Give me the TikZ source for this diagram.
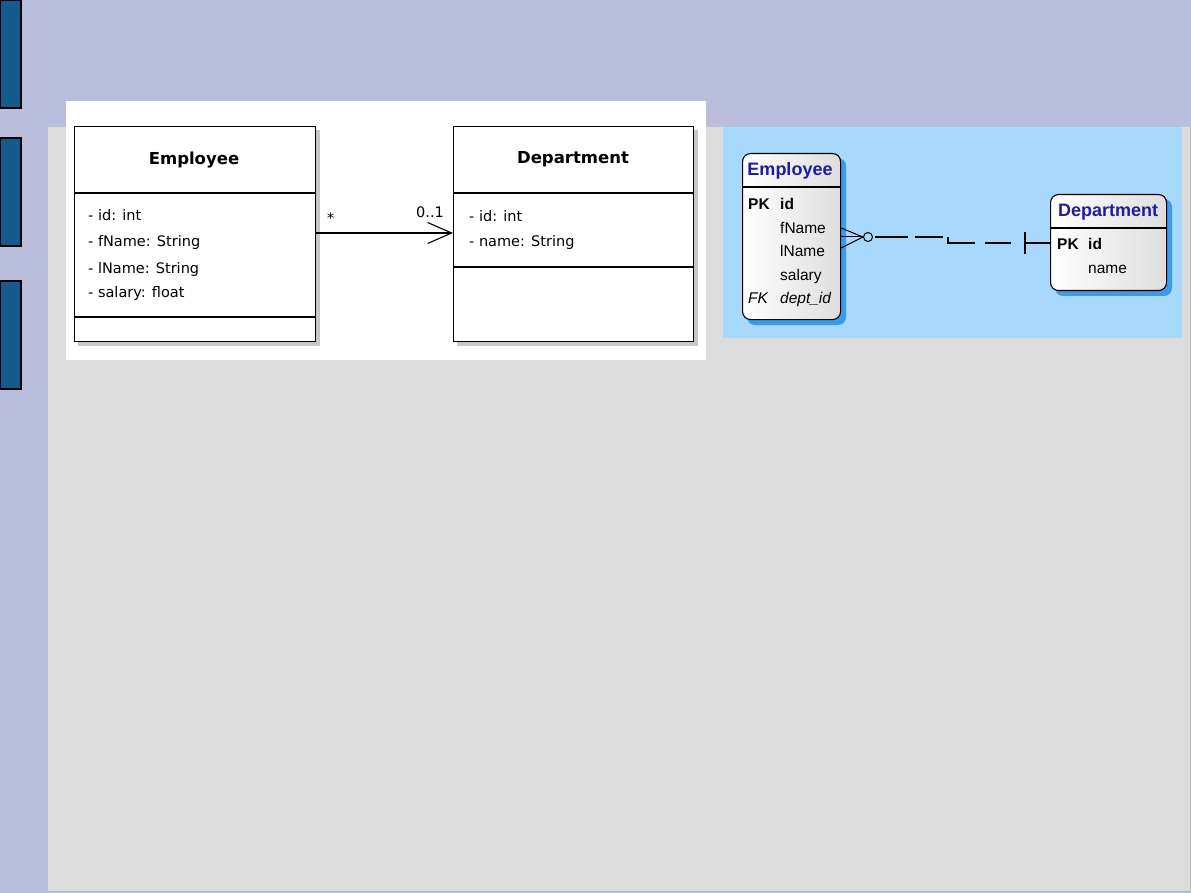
\documentclass[tikz,border=0pt]{standalone}
\usepackage{fontspec}
\setmainfont{Liberation Sans}
\newfontfamily\umlfont{DejaVu Sans}
\usetikzlibrary{positioning,arrows.meta,calc}

\definecolor{slidelav}{HTML}{B9BEDC}
\definecolor{slidegray}{HTML}{DCDCDC}
\definecolor{tabblue}{HTML}{145A8C}
\definecolor{erback}{HTML}{A8D8FB}
\definecolor{ershadow}{HTML}{3A9BE8}
\definecolor{ertitle}{HTML}{1E1E9C}

\begin{document}
\begin{tikzpicture}[x=1pt, y=-1pt, >=Latex,
  umlbox/.style={draw, line width=1.4pt, fill=white, inner sep=0pt, anchor=north west},
  umltitle/.style={font=\umlfont\bfseries\fontsize{16.5}{19}\selectfont},
  umlattr/.style={anchor=base west, inner sep=0pt, font=\umlfont\fontsize{14.5}{17}\selectfont},
  erbox/.style={draw, line width=1.1pt, rounded corners=8pt, left color=white, right color=black!13, inner sep=0pt, anchor=north west},
  ershade/.style={fill=ershadow, rounded corners=8pt},
  ertitle/.style={text=ertitle, font=\bfseries\fontsize{18}{21}\selectfont},
  erattr/.style={anchor=base west, inner sep=0pt, font=\fontsize{15.5}{18}\selectfont}]

  % slide background
  \fill[slidelav] (0,0) rectangle (1191,893);
  \fill[slidegray] (48,127) rectangle (1190,891);
  \draw[black!28, line width=1pt] (1190,127) -- (1190,891) -- (48,891);
  \filldraw[fill=tabblue, draw=black, line width=1.2pt] (0.6,0.6) rectangle (21,108);
  \filldraw[fill=tabblue, draw=black, line width=1.2pt] (0.6,138) rectangle (21,246);
  \filldraw[fill=tabblue, draw=black, line width=1.2pt] (0.6,281) rectangle (21,389);

  % UML class diagram
  \fill[white] (66,101) rectangle (706,360);
  \fill[black!22] (78,130) rectangle (320,346);
  \fill[black!22] (457,130) rectangle (698,346);
  \node[umlbox, minimum width=241pt, minimum height=215pt] (empClass) at (74,126) {};
  \node[umlbox, minimum width=240pt, minimum height=215pt] (deptClass) at (453,126) {};
  \draw[line width=1.4pt] (74,193) -- (315,193);
  \draw[line width=1.4pt] (74,317) -- (315,317);
  \draw[line width=1.4pt] (453,193) -- (693,193);
  \draw[line width=1.4pt] (453,267) -- (693,267);

  \node[umltitle] (empName) at (194,160) {Employee};
  \node[umltitle] (deptName) at (573,159) {Department};
  \node[umlattr] (empId) at (88,221) {- id: int};
  \node[umlattr] (empFirst) at (88,247) {- fName: String};
  \node[umlattr] (empLast) at (88,273) {- lName: String};
  \node[umlattr] (empSalary) at (88,298) {- salary: float};
  \node[umlattr] (deptId) at (469,222) {- id: int};
  \node[umlattr] (deptLabel) at (469,247) {- name: String};

  \coordinate (assocStart) at (315,233);
  \coordinate (assocEnd) at (453,233);
  \draw[line width=1.1pt, -{Straight Barb[length=24pt, width=21pt, line width=1.1pt]}] (assocStart) -- (assocEnd);
  \node[umlattr] (manyMult) at (327,224) {*};
  \node[umlattr] (optMult) at (416,218) {0..1};

  % ER diagram
  \fill[erback] (723,127) rectangle (1182,338);
  \fill[ershade] (747,158) rectangle (846,325);
  \fill[ershade] (1055,199) rectangle (1172,296);
  \node[erbox, minimum width=98pt, minimum height=166pt] (erEmp) at (742,153) {};
  \node[erbox, minimum width=116pt, minimum height=96pt] (erDept) at (1050,194) {};
  \draw[line width=1.1pt] (742,187) -- (840,187);
  \draw[line width=1.1pt] (1050,228) -- (1166,228);

  \node[ertitle] (erEmpName) at (790,171) {Employee};
  \node[erattr, font=\bfseries\fontsize{15.5}{18}\selectfont] (erEmpPk) at (748,210) {PK};
  \node[erattr, font=\bfseries\fontsize{15.5}{18}\selectfont] (erEmpId) at (780,210) {id};
  \node[erattr] (erEmpFirst) at (780,234) {fName};
  \node[erattr] (erEmpLast) at (780,257) {lName};
  \node[erattr] (erEmpSalary) at (780,280) {salary};
  \node[erattr, font=\itshape\fontsize{15.5}{18}\selectfont] (erEmpFk) at (748,303) {FK};
  \node[erattr, font=\itshape\fontsize{15.5}{18}\selectfont] (erEmpDept) at (780,303) {dept\_id};

  \node[ertitle] (erDeptName) at (1108,212) {Department};
  \node[erattr, font=\bfseries\fontsize{15.5}{18}\selectfont] (erDeptPk) at (1057,250) {PK};
  \node[erattr, font=\bfseries\fontsize{15.5}{18}\selectfont] (erDeptId) at (1088,250) {id};
  \node[erattr] (erDeptLabel) at (1088,274) {name};

  % relationship: many (optional) to one
  \coordinate (crow) at (863,237);
  \coordinate (stepA) at (948,237);
  \coordinate (stepB) at (948,243);
  \coordinate (oneBar) at (1025,243);
  \draw[line width=1pt] (erEmp.east |- 0,228) -- (crow);
  \draw[line width=1pt] (erEmp.east |- 0,237) -- (crow);
  \draw[line width=1pt] (erEmp.east |- 0,248) -- (crow);
  \draw[line width=1pt] (868,237) circle (4.5pt);
  \draw[line width=1.2pt, dash pattern=on 33pt off 7pt] (875,237) -- (943,237);
  \draw[line width=1.2pt] (stepA) -- (stepB) -- (975,243);
  \draw[line width=1.2pt] (985,243) -- (1011,243);
  \draw[line width=1.2pt] (oneBar) -- (erDept.west |- oneBar);
  \draw[line width=1.2pt] (1025,232) -- (1025,254);
\end{tikzpicture}
\end{document}
